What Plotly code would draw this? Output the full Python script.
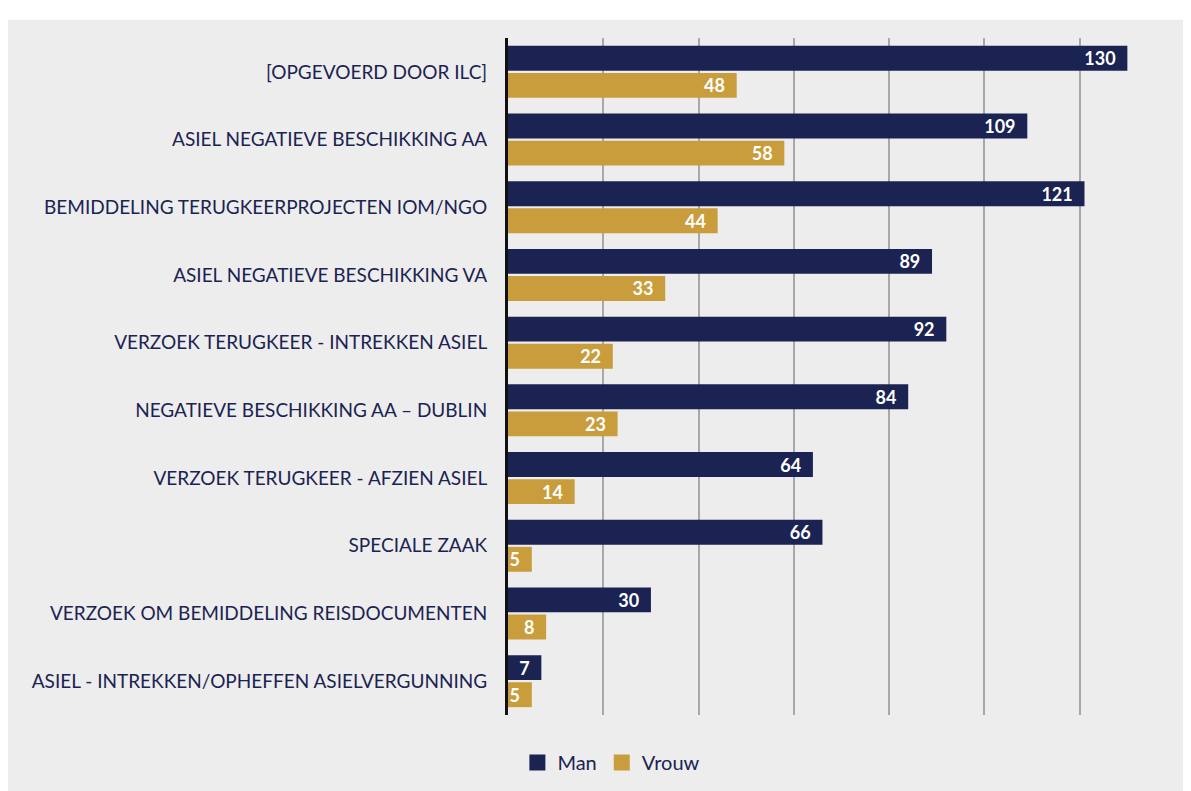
import plotly.graph_objects as go

categories = [
    "[OPGEVOERD DOOR ILC]",
    "ASIEL NEGATIEVE BESCHIKKING AA",
    "BEMIDDELING TERUGKEERPROJECTEN IOM/NGO",
    "ASIEL NEGATIEVE BESCHIKKING VA",
    "VERZOEK TERUGKEER - INTREKKEN ASIEL",
    "NEGATIEVE BESCHIKKING AA \u2013 DUBLIN",
    "VERZOEK TERUGKEER - AFZIEN ASIEL",
    "SPECIALE ZAAK",
    "VERZOEK OM BEMIDDELING REISDOCUMENTEN",
    "ASIEL - INTREKKEN/OPHEFFEN ASIELVERGUNNING",
]
series_names = ["Man", "Vrouw"]
man = [130, 109, 121, 89, 92, 84, 64, 66, 30, 7]
vrouw = [48, 58, 44, 33, 22, 23, 14, 5, 8, 5]

NAVY = "#1b2352"
GOLD = "#c99d3b"
FONT = "Lato"

fig = go.Figure()
for name, vals, col in zip(series_names, [man, vrouw], [NAVY, GOLD]):
    fig.add_trace(go.Bar(
        y=categories, x=vals, name=name, orientation="h", showlegend=False,
        marker=dict(color=col, line=dict(width=0)),
        texttemplate="%{x}\u00a0\u00a0", textposition="inside", insidetextanchor="end", textangle=0,
        textfont=dict(color="white", size=18, family=FONT, weight="bold"),
    ))
# legend entries with larger square swatches
for name, col in zip(series_names, [NAVY, GOLD]):
    fig.add_trace(go.Scatter(
        x=[None], y=[None], mode="markers", name=name,
        marker=dict(symbol="square", size=17, color=col),
    ))

fig.update_layout(
    width=1183, height=783,
    margin=dict(l=500, r=16, t=30, b=76, autoexpand=False),
    paper_bgcolor="#ededed",
    plot_bgcolor="rgba(0,0,0,0)",
    barmode="group", bargap=0.2, bargroupgap=0.08,
    uniformtext=dict(minsize=18, mode="show"),
    font=dict(family=FONT, color=NAVY, size=19),
    legend=dict(orientation="h", x=0.155, xanchor="center", y=-0.07, yanchor="middle",
                font=dict(size=20, color=NAVY), bgcolor="rgba(0,0,0,0)",
                itemwidth=30, tracegroupgap=0),
    xaxis=dict(range=[0, 140], dtick=20, showticklabels=False, showgrid=True,
               gridcolor="#a8a8a8", gridwidth=1.5, zeroline=False, showline=False,
               fixedrange=True),
    yaxis=dict(autorange="reversed", showline=True, linecolor="#111111", linewidth=3,
               ticks="", ticklabelstandoff=14, automargin=False,
               tickfont=dict(size=19, color=NAVY, family=FONT)),
    shapes=[dict(type="rect", xref="paper", yref="paper", x0=-0.8, x1=1.1, y0=1.027, y1=1.08,
                 fillcolor="white", line=dict(width=0), layer="below")],
)

fig.write_html("out.html")
